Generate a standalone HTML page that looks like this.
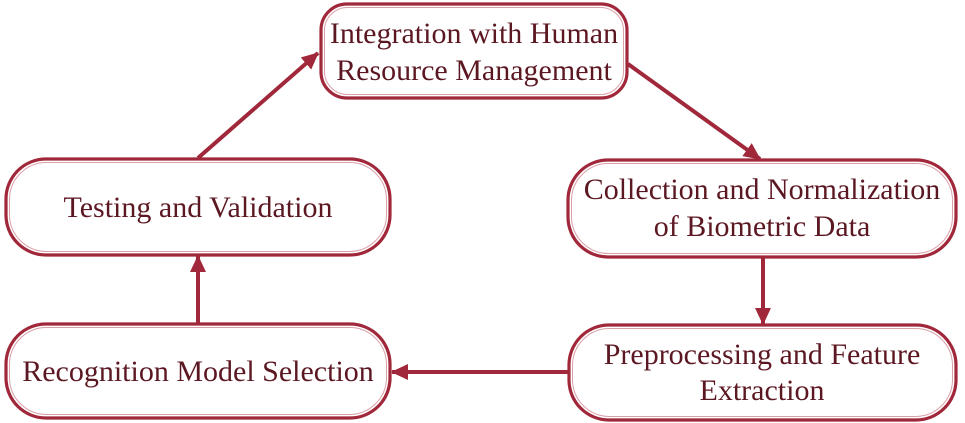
<!DOCTYPE html>
<html><head><meta charset="utf-8"><style>
html,body{margin:0;padding:0;background:#fff}
svg{display:block}
svg text{font-family:"Liberation Serif","Times New Roman","DejaVu Serif",serif;font-size:30px;fill:#5c1822;text-anchor:middle}
</style></head><body>
<svg width="965" height="423" viewBox="0 0 965 423">
<defs>
<marker id="b" markerWidth="18" markerHeight="16" refX="16" refY="8" orient="auto" markerUnits="userSpaceOnUse"><path d="M0,0 L17,8 L0,16 Z" fill="#a0283a"/></marker></defs>
<g fill="#fff" stroke="#a0283a" stroke-width="3.2">
<rect x="321" y="4" width="306" height="94" rx="26"/>
<rect x="6" y="159" width="384" height="96" rx="40"/>
<rect x="6" y="324" width="384" height="94" rx="40"/>
<rect x="568" y="160" width="388" height="97" rx="40"/>
<rect x="569" y="325" width="387" height="95" rx="40"/>
</g>
<g fill="none" stroke="#d9a0a8" stroke-width="1">
<rect x="324.5" y="7.5" width="299" height="87" rx="23"/>
<rect x="9.5" y="162.5" width="377" height="89" rx="37"/>
<rect x="9.5" y="327.5" width="377" height="87" rx="37"/>
<rect x="571.5" y="163.5" width="381" height="90" rx="37"/>
<rect x="572.5" y="328.5" width="380" height="88" rx="37"/>
</g>
<g stroke="#a0283a" stroke-width="4" fill="none">
<line x1="198" y1="158" x2="318" y2="53" marker-end="url(#b)"/>
<line x1="628" y1="64" x2="760" y2="159" marker-end="url(#b)"/>
<line x1="763" y1="257" x2="763" y2="324" marker-end="url(#b)"/>
<line x1="568" y1="372" x2="392" y2="372" marker-end="url(#b)"/>
<line x1="198" y1="323" x2="198" y2="256" marker-end="url(#b)"/>
</g>
<text x="474" y="43" font-family="Liberation Serif, serif">Integration with Human</text>
<text x="474" y="80" font-family="Liberation Serif, serif">Resource Management</text>
<text x="198" y="217" font-family="Liberation Serif, serif">Testing and Validation</text>
<text x="198" y="381" font-family="Liberation Serif, serif">Recognition Model Selection</text>
<text x="762" y="199" font-family="Liberation Serif, serif">Collection and Normalization</text>
<text x="762" y="236" font-family="Liberation Serif, serif">of Biometric Data</text>
<text x="762" y="364" font-family="Liberation Serif, serif">Preprocessing and Feature</text>
<text x="762" y="400" font-family="Liberation Serif, serif">Extraction</text>
</svg>
</body></html>
